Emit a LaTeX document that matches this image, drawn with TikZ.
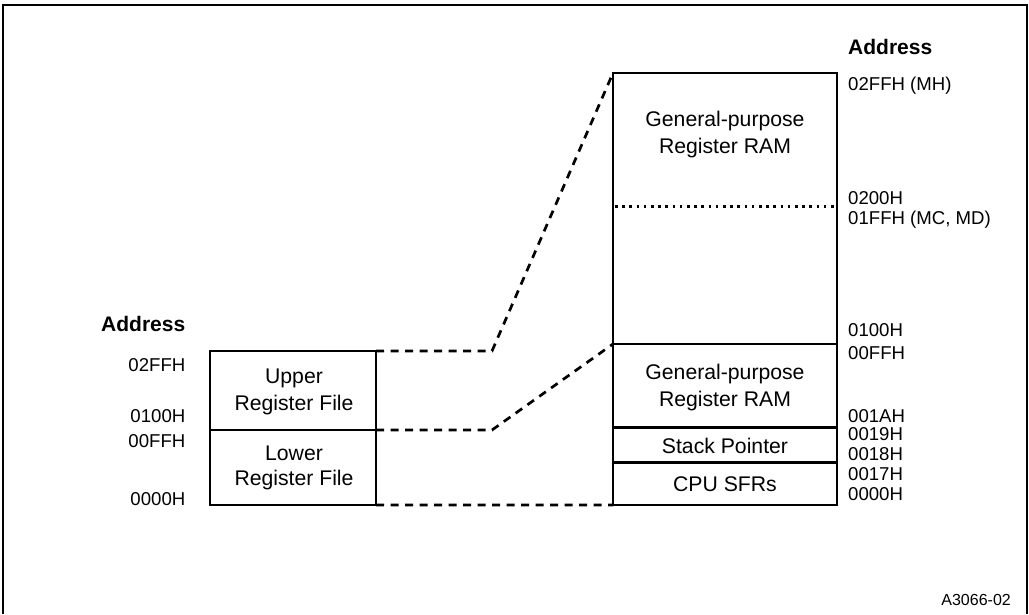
\documentclass[tikz,border=0pt]{standalone}
\usepackage{fontspec}
\setmainfont{Liberation Sans}
\begin{document}
\begin{tikzpicture}[x=1pt,y=-1pt,
  box/.style={draw,line width=2.7pt,inner sep=0pt,outer sep=0pt,anchor=north west},
  lbl/.style={font=\fontsize{18.6}{22}\selectfont,inner sep=0pt,anchor=base west},
  lblr/.style={lbl,anchor=base east},
  txt/.style={font=\fontsize{21.2}{27}\selectfont,inner sep=0pt,anchor=base},
  hdr/.style={font=\fontsize{21}{25}\selectfont\bfseries,inner sep=0pt,anchor=base west},
  link/.style={line width=2.7pt,dash pattern=on 8pt off 6.5pt},
  dotline/.style={line width=2.5pt,dash pattern=on 2.5pt off 4.7pt},
  frame/.style={line width=2.2pt}]
\useasboundingbox (0,0) rectangle (1029,614);
\coordinate (f1) at (3,614);
\coordinate (f2) at (3,5);
\coordinate (f3) at (1027,5);
\coordinate (f4) at (1027,614);
\draw[frame] (f1) -- (f2) -- (f3) -- (f4);

% left box
\node[box,minimum width=166pt,minimum height=79pt] (upper) at (210,351) {};
\node[box,minimum width=166pt,minimum height=75pt] (lower) at (210,430) {};
\node[txt] (tu1) at (294,383) {Upper};
\node[txt] (tu2) at (294,410) {Register File};
\node[txt] (tl1) at (294,460) {Lower};
\node[txt] (tl2) at (294,485.7) {Register File};

\node[hdr] (addrL) at (101,331.7) {Address};
\node[lblr] (l1) at (185.5,371.5) {02FFH};
\node[lblr] (l2) at (185.5,422.7) {0100H};
\node[lblr] (l3) at (185.5,447) {00FFH};
\node[lblr] (l4) at (185.5,505) {0000H};

% right box
\node[box,minimum width=224pt,minimum height=271pt] (ram) at (613,73) {};
\node[box,minimum width=224pt,minimum height=83.7pt] (gpr) at (613,344) {};
\node[box,minimum width=224pt,minimum height=35pt] (sp) at (613,427.7) {};
\node[box,minimum width=224pt,minimum height=42.3pt] (sfr) at (613,462.7) {};
\coordinate (d1) at (615,206.7);
\coordinate (d2) at (835,206.7);
\draw[dotline] (d1) -- (d2);

\node[txt] (r1) at (725,126.7) {General-purpose};
\node[txt] (r2) at (725,153) {Register RAM};
\node[txt] (g1) at (725,379.3) {General-purpose};
\node[txt] (g2) at (725,406) {Register RAM};
\node[txt] (s1) at (725,453.3) {Stack Pointer};
\node[txt] (c1t) at (725,491.7) {CPU SFRs};

\node[hdr] (addrR) at (848,54) {Address};
\node[lbl] (a1) at (848,90) {02FFH (MH)};
\node[lbl] (a2) at (848,204) {0200H};
\node[lbl] (a3) at (848,224) {01FFH (MC, MD)};
\node[lbl] (a4) at (848,336.7) {0100H};
\node[lbl] (a5) at (848,359) {00FFH};
\node[lbl] (a6) at (848,422.3) {001AH};
\node[lbl] (a7) at (848,440.7) {0019H};
\node[lbl] (a8) at (848,460) {0018H};
\node[lbl] (a9) at (848,480.7) {0017H};
\node[lbl] (a10) at (848,500) {0000H};

% connectors
\coordinate (k1) at (492,351);
\coordinate (k2) at (492,430);
\draw[link] (upper.north east) -- (k1) -- (ram.north west);
\draw[link] (upper.south east) -- (k2) -- (gpr.north west);
\draw[link] (lower.south east) -- (sfr.south west);

\node[font=\fontsize{16}{19}\selectfont,inner sep=0pt,anchor=base east] (fig) at (1011,605) {A3066-02};
\end{tikzpicture}
\end{document}
